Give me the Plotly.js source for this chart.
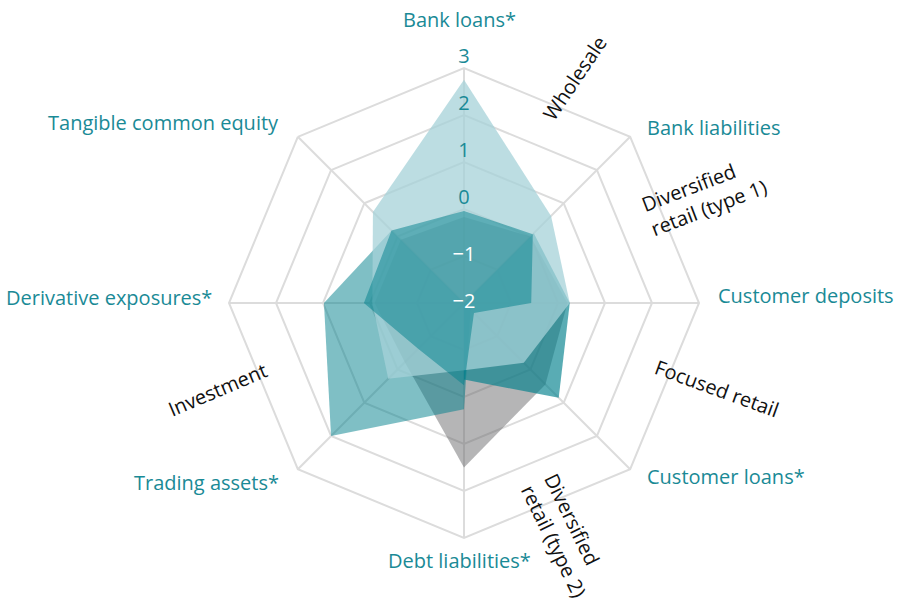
<!DOCTYPE html>
<html><head><meta charset="utf-8">
<script src="https://cdn.plot.ly/plotly-3.0.1.min.js"></script>
<style>html,body{margin:0;padding:0;background:#fff}#chart{width:897px;height:604px}</style>
</head><body><div id="chart"></div>
<script>
// ---- data ----
const categories = ["Bank loans*","Bank liabilities","Customer deposits","Customer loans*","Debt liabilities*","Trading assets*","Derivative exposures*","Tangible common equity"];
const diversifiedType2 = [-0.17, 0.00, 0.20, 0.45, 1.50, -0.22, -0.10, -0.10];
const investment       = [-2.00, -2.00, -2.00, -1.80, 0.26, 2.00, 0.98, 0.18];
const focusedRetail    = [-2.00, 0.10, 0.25, 0.85, -0.37, -2.00, -2.00, -2.00];
const wholesale        = [2.75, 0.62, 0.25, -0.20, -0.57, 0.28, -0.05, 0.74];
const diversifiedType1 = [-0.04, 0.07, -0.57, -1.70, -0.25, -0.62, 0.13, 0.18];
const seriesNames  = ["Diversified retail (type 2)","Investment","Focused retail","Wholesale","Diversified retail (type 1)"];
const tickValues = [-2, -1, 0, 1, 2, 3];
const tickLabels = ["\u22122", "\u22121", "0", "1", "2", "3"];
const seriesLabelText = ["Wholesale", "Diversified<br>retail (type 1)", "Focused retail", "Diversified<br>retail (type 2)", "Investment"];

// ---- styling / layout ----
const W = 897, H = 604;
const teal = "#1a8a96";
const fills = ["rgba(100,100,103,0.48)","rgba(0,128,140,0.5)","rgba(0,128,140,0.65)","rgba(165,210,216,0.75)","rgba(0,128,140,0.5)"];
const seriesData = [diversifiedType2, investment, focusedRetail, wholesale, diversifiedType1];
const font = "'Open Sans', 'Noto Sans', sans-serif";

const cxPx = 464, cyPx = 303, Rpx = 235;
const domX = [(cxPx - Rpx) / W, (cxPx + Rpx) / W];
const domY = [(H - cyPx - Rpx) / H, (H - cyPx + Rpx) / H];

const traces = seriesData.map((vals, i) => ({
  type: "scatterpolar",
  r: vals,
  theta: categories,
  name: seriesNames[i],
  mode: "lines",
  fill: "toself",
  fillcolor: fills[i],
  line: {width: 0, color: "rgba(0,0,0,0)"},
  hoverinfo: "skip",
  showlegend: false
}));

// radial tick labels drawn on the top spoke
function tickTrace(filter, pos, color, clip, subplot) {
  const idx = tickValues.map((v, i) => i).filter(i => filter(tickValues[i]));
  return {
    type: "scatterpolar",
    subplot: subplot,
    r: idx.map(i => tickValues[i]),
    theta: idx.map(() => categories[0]),
    mode: "text",
    text: idx.map(i => tickLabels[i]),
    textposition: pos,
    textfont: {family: font, size: 20, color: color},
    hoverinfo: "skip", showlegend: false, cliponaxis: clip
  };
}
traces.push(tickTrace(v => v >= 0 && v < 2, "top center", teal, true, "polar"));
traces.push(tickTrace(v => v < 0, "middle center", "#ffffff", true, "polar"));
traces.push(tickTrace(v => v >= 2, "top center", teal, false, "polar2"));

// series label placement: [radius px, angle deg clockwise from top, text angle]
const labelPlace = [[251, 26.3, -56], [263, 65.8, -21], [267, 108.6, 20], [254, 156.5, 64], [261, 250.7, -23]];
const annotations = seriesLabelText.map((t, i) => {
  const [r, a, ta] = labelPlace[i];
  const rad = a * Math.PI / 180;
  return {
    xref: "paper", yref: "paper",
    x: (cxPx + r * Math.sin(rad)) / W,
    y: (H - (cyPx - r * Math.cos(rad))) / H,
    text: t, showarrow: false, textangle: ta, align: "left",
    xanchor: "center", yanchor: "middle",
    font: {family: font, size: 20, color: "#111"}
  };
});
// category labels around the chart: [x px, y px, xanchor]
const catPlace = [[460, 20, "center"], [645, 127, "left"], [716, 296, "left"], [645, 476, "left"],
                  [460, 560, "center"], [281, 482, "right"], [214, 297, "right"], [281, 123, "right"]];
categories.forEach((c, i) => {
  const [x, y, xa] = catPlace[i];
  annotations.push({
    xref: "paper", yref: "paper", x: x / W, y: (H - y) / H,
    text: c, showarrow: false, xanchor: xa, yanchor: "middle",
    font: {family: font, size: 20, color: teal}
  });
});

const angular = {
  type: "category",
  categoryarray: categories,
  rotation: 90,
  direction: "clockwise"
};

const layout = {
  width: W, height: H,
  margin: {l: 0, r: 0, t: 0, b: 0},
  paper_bgcolor: "#fff",
  showlegend: false,
  annotations: annotations,
  polar: {
    domain: {x: domX, y: domY},
    bgcolor: "rgba(0,0,0,0)",
    gridshape: "linear",
    angularaxis: Object.assign({}, angular, {
      showline: true, linecolor: "#dcdcdc", linewidth: 2,
      showgrid: true, gridcolor: "#dcdcdc", gridwidth: 2,
      ticks: "", showticklabels: false
    }),
    radialaxis: {
      range: [-2, 3],
      tickvals: tickValues,
      showticklabels: false,
      ticks: "",
      showline: false,
      showgrid: true, gridcolor: "#dcdcdc", gridwidth: 2
    }
  },
  polar2: {
    domain: {x: domX, y: domY},
    bgcolor: "rgba(0,0,0,0)",
    gridshape: "linear",
    angularaxis: Object.assign({}, angular, {
      showline: false, showgrid: false, ticks: "", showticklabels: false
    }),
    radialaxis: {
      range: [-2, 3],
      showticklabels: false, ticks: "", showline: false, showgrid: false
    }
  }
};

Plotly.newPlot("chart", traces, layout, {displayModeBar: false, staticPlot: true});
</script>
</body></html>
